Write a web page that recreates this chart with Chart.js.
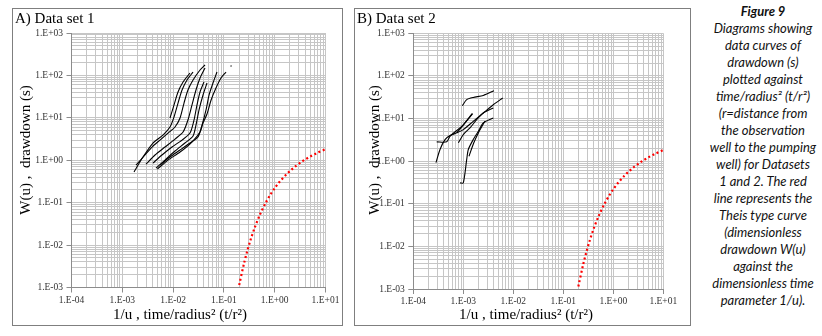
<!DOCTYPE html>
<html>
<head>
<meta charset="utf-8">
<script src="https://cdn.jsdelivr.net/npm/chart.js@4.4.0/dist/chart.umd.min.js"></script>
<style>
  html, body { margin: 0; padding: 0; background: #fff; }
  body { width: 822px; height: 336px; position: relative; overflow: hidden; font-family: "Liberation Serif", serif; }
  .panel { position: absolute; border: 1px solid #7f7f7f; box-sizing: border-box; background: #fff; }
  .panel canvas { position: absolute; left: 0; top: 0; }
  .ptitle { position: absolute; left: 2px; top: 1px; font-size: 15px; line-height: 17px; color: #000; }
  #caption { position: absolute; left: 699px; top: 3px; width: 128px; text-align: center;
    font-family: Lato, sans-serif; font-style: italic; font-size: 13px; line-height: 17px; color: #111; }
  #caption b { font-weight: 700; }
</style>
</head>
<body>
<div class="panel" id="panelA" style="left:12px;top:8px;width:331px;height:318px">
  <canvas id="chartA" width="329" height="316"></canvas>
  <div class="ptitle">A) Data set 1</div>
</div>
<div class="panel" id="panelB" style="left:354px;top:8px;width:337px;height:318px">
  <canvas id="chartB" width="335" height="316"></canvas>
  <div class="ptitle">B) Data set 2</div>
</div>
<div id="caption">
  <b>Figure 9</b><br>Diagrams showing<br>data curves of<br>drawdown (s)<br>plotted against<br>time/radius² (t/r²)<br>(r=distance from<br>the observation<br>well to the pumping<br>well) for Datasets<br>1 and 2. The red<br>line represents the<br>Theis type curve<br>(dimensionless<br>drawdown W(u)<br>against the<br>dimensionless time<br>parameter 1/u).
</div>

<script>
// axis ticks
const xMajor = [1e-4, 1e-3, 1e-2, 1e-1, 1, 10];
const xLabels = ['1.E-04', '1.E-03', '1.E-02', '1.E-01', '1.E+00', '1.E+01'];
const yMajor = [1e-3, 1e-2, 1e-1, 1, 10, 100, 1000];
const yLabels = ['1.E-03', '1.E-02', '1.E-01', '1.E+00', '1.E+01', '1.E+02', '1.E+03'];
const minorSteps = [1, 2, 3, 4, 5, 6, 7, 8, 9];

// Theis type curve (1/u, W(u))
const theisInvU = [0.2, 0.25, 0.2857, 0.3333, 0.4, 0.5, 0.6667, 0.8333, 1, 1.25, 1.6667, 2, 2.5, 3.3333, 4, 5, 6.6667, 10];
const theisW = [0.00115, 0.00378, 0.00697, 0.01305, 0.02491, 0.0489, 0.1, 0.1584, 0.2194, 0.3106, 0.4544, 0.5598, 0.7024, 0.9057, 1.0443, 1.2227, 1.4645, 1.8229];

// Data set 1 curves: t/r² and drawdown s
const set1T = [
  [1.70e-3, 2.55e-3, 4.02e-3, 6.32e-3, 8.69e-3, 1.04e-2, 1.25e-2, 1.50e-2, 1.88e-2, 2.47e-2],
  [8.69e-3, 1.04e-2, 1.25e-2, 1.57e-2, 2.15e-2],
  [1.86e-3, 2.80e-3, 3.85e-3, 5.52e-3, 7.94e-3, 1.09e-2, 1.37e-2, 1.64e-2, 1.96e-2, 2.47e-2, 3.39e-2, 4.25e-2],
  [2.93e-3, 4.41e-3, 6.93e-3, 1.09e-2, 1.57e-2, 1.96e-2, 2.35e-2, 2.82e-2, 3.39e-2, 4.25e-2],
  [4.02e-3, 6.04e-3, 9.51e-3, 1.50e-2, 2.15e-2, 2.58e-2, 2.95e-2, 3.39e-2, 4.06e-2],
  [4.60e-3, 6.93e-3, 1.09e-2, 1.71e-2, 2.47e-2, 2.82e-2, 3.24e-2, 3.88e-2, 4.65e-2],
  [5.52e-3, 8.69e-3, 1.37e-2, 2.15e-2, 3.09e-2, 3.71e-2, 4.45e-2, 5.1e-2, 6.1e-2, 7.3e-2],
  [4.9e-3, 7.94e-3, 1.37e-2, 2.35e-2, 3.39e-2, 3.88e-2, 4.65e-2, 5.6e-2, 6.98e-2, 8.77e-2, 0.110],
  [0.135, 0.142]
];
const set1S = [
  [0.53, 1.19, 2.55, 3.93, 6.07, 10.4, 22.3, 45.3, 78.0, 120],
  [9.9, 20.0, 40.6, 69.9, 114],
  [0.77, 1.33, 2.05, 2.99, 4.38, 6.07, 9.9, 22.3, 45.3, 78.0, 134, 176],
  [0.81, 1.33, 2.05, 3.16, 4.62, 8.87, 20.0, 45.3, 86.9, 150],
  [0.86, 1.33, 2.05, 2.99, 4.38, 8.87, 20.0, 40.6, 69.9],
  [0.65, 1.01, 1.65, 2.55, 3.72, 6.76, 15.3, 34.5, 66.2],
  [0.77, 1.19, 1.74, 2.55, 3.53, 6.76, 15.3, 34.5, 66.2, 120],
  [0.62, 1.01, 1.56, 2.69, 4.62, 7.54, 12.3, 26.3, 50.4, 86.9, 120],
  [165, 170]
];

// Data set 2 curves
const set2T = [
  [9.55e-4, 1.17e-3, 1.58e-3, 2.51e-3, 4.11e-3],
  [2.84e-4, 3.42e-4, 4.31e-4, 5.42e-4, 7.38e-4, 1.0e-3, 1.58e-3, 2.51e-3, 3.98e-3, 6.14e-3],
  [2.94e-4, 4.66e-4, 5.42e-4, 9.29e-4, 1.54e-3],
  [7.94e-4, 1.0e-3, 1.36e-3, 1.85e-3, 2.51e-3, 3.98e-3],
  [8.59e-4, 1.0e-3, 1.17e-3, 1.26e-3, 1.58e-3, 2.0e-3, 2.51e-3, 3.98e-3],
  [1.3e-3, 1.6e-3, 2.0e-3, 2.7e-3],
  [7.4e-4, 1.0e-3, 1.5e-3]
];
const set2S = [
  [20.0, 27.7, 31.3, 34.8, 44.9],
  [0.92, 1.88, 3.21, 3.98, 4.61, 5.5, 8.6, 13.5, 21.1, 30.3],
  [2.84, 2.84, 3.84, 6.57, 13.0],
  [2.69, 4.21, 6.03, 9.42, 13.5, 17.7],
  [0.31, 0.31, 1.10, 1.88, 3.21, 5.02, 7.89, 10.3],
  [1.3, 2.6, 4.6, 8.6],
  [4.6, 7.0, 13.0]
];

const serif = 'Liberation Serif, Times New Roman, serif';

function logTicks(majors) {
  const out = [];
  majors.forEach((m, i) => {
    if (i === majors.length - 1) { out.push(m); return; }
    minorSteps.forEach(k => out.push(+(m * k).toPrecision(6)));
  });
  return out;
}
function majorIndex(majors, v) {
  return majors.findIndex(m => Math.abs(m - v) / m < 1e-6);
}

function logAxis(majors, labels, fitSize, isX) {
  const vals = logTicks(majors);
  return {
    type: 'logarithmic',
    min: majors[0],
    max: majors[majors.length - 1],
    afterBuildTicks: s => { s.ticks = vals.map(v => ({ value: v })); },
    afterFit: s => { if (isX) s.height = fitSize; else s.width = fitSize; },
    grid: {
      color: '#c6c6c6',
      lineWidth: 1,
      tickLength: 5,
      tickColor: c => (c.tick && majorIndex(majors, c.tick.value) >= 0) ? '#8c8c8c' : 'rgba(0,0,0,0)'
    },
    border: { display: true, color: '#8c8c8c', width: 1 },
    ticks: {
      autoSkip: false,
      maxRotation: 0,
      minRotation: 0,
      padding: isX ? 2 : 3.5,
      color: '#333',
      font: { family: serif, size: 9.5 },
      callback: v => { const i = majorIndex(majors, v); return i >= 0 ? labels[i] : ''; }
    }
  };
}

// axis titles drawn at their offset positions
const axisTitles = {
  id: 'axisTitles',
  afterDraw(chart, args, opts) {
    const ctx = chart.ctx;
    ctx.save();
    ctx.fillStyle = '#000';
    ctx.font = '15px ' + serif;
    ctx.textAlign = 'center';
    ctx.textBaseline = 'middle';
    ctx.fillText('1/u , time/radius² (t/r²)', opts.xtx, opts.xty);
    ctx.translate(opts.ytx, opts.yty);
    ctx.rotate(-Math.PI / 2);
    ctx.fillText('W(u) ,  drawdown (s)', 0, 0);
    ctx.restore();
  }
};

function makeChart(id, tSets, sSets, pad, yW, xH, titles) {
  const datasets = tSets.map((ts, k) => ({
    data: ts.map((t, i) => ({ x: t, y: sSets[k][i] })),
    showLine: true,
    borderColor: '#000',
    borderWidth: 1.1,
    pointRadius: 0,
    tension: 0.25,
    fill: false
  }));
  datasets.push({
    data: theisInvU.map((t, i) => ({ x: t, y: theisW[i] })),
    showLine: true,
    borderColor: '#ff0000',
    borderWidth: 2.2,
    borderDash: [2, 2.6],
    pointRadius: 0,
    tension: 0.3,
    fill: false
  });
  return new Chart(document.getElementById(id), {
    type: 'scatter',
    data: { datasets },
    options: {
      responsive: false,
      animation: false,
      layout: { padding: pad },
      plugins: { legend: { display: false }, tooltip: { enabled: false }, axisTitles: titles },
      scales: {
        x: logAxis(xMajor, xLabels, xH, true),
        y: logAxis(yMajor, yLabels, yW, false)
      }
    },
    plugins: [axisTitles]
  });
}

makeChart('chartA', set1T, set1S, { left: 0, top: 24, right: 16.5, bottom: 0 }, 58.5, 37.5,
  { xtx: 167, xty: 306, ytx: 13, yty: 141 });
makeChart('chartB', set2T, set2S, { left: 0, top: 24.3, right: 26.7, bottom: 0 }, 58.3, 36,
  { xtx: 171, xty: 306, ytx: 20, yty: 141 });
</script>
</body>
</html>
